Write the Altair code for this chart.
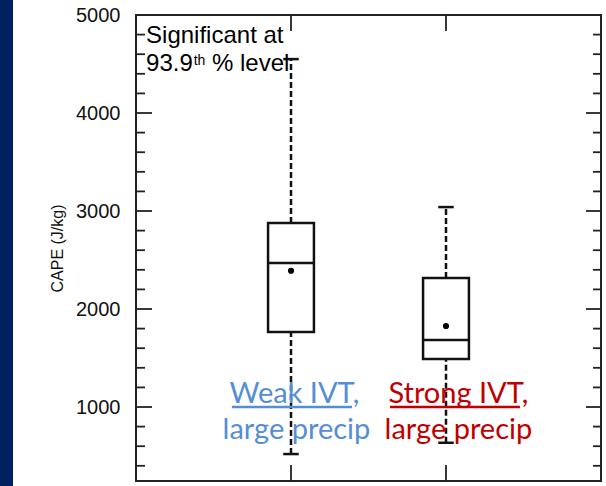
import altair as alt
import pandas as pd

# ---- data ----
groups = ["Weak IVT", "Strong IVT"]
positions = [1, 2]
whisker_low = [520, 635]
q1 = [1765, 1490]
median = [2470, 1685]
q3 = [2878, 2316]
whisker_high = [4550, 3040]
means = [2390, 1827]

y_labels = [1000, 2000, 3000, 4000, 5000]
y_major_ticks = [1000, 2000, 3000, 4000]
y_minor_ticks = [400, 600, 800, 1200, 1400, 1600, 1800, 2200, 2400, 2600, 2800,
                 3200, 3400, 3600, 3800, 4200, 4400, 4600, 4800]
x_ticks = [1, 2]

sig_texts = ["Significant at", "93.9", "th", "% level"]
sig_x = [0.065, 0.065, 0.372, 0.49]
sig_y = [4714, 4429, 4490, 4429]
sig_size = [24, 24, 14, 24]

lab_texts = ["Weak IVT,", "large precip", "Strong IVT,", "large precip"]
lab_x = [1.022, 1.035, 2.08, 2.08]
lab_y = [1041, 673, 1041, 673]
lab_color = ["#558ED5", "#558ED5", "#C00000", "#C00000"]

under_x1 = [0.619, 1.639]
under_x2 = [1.394, 2.477]
under_y = [1000, 1000]
under_color = ["#558ED5", "#C00000"]

W, H = 465, 466
BOX_HALF = 0.148
CAP_HALF = 0.05
INK = "#111111"

box_df = pd.DataFrame({"group": groups, "pos": positions, "lo": whisker_low, "q1": q1,
                       "med": median, "q3": q3, "hi": whisker_high, "mean": means})

xs = alt.Scale(domain=[0, 3], nice=False, zero=False)
ys = alt.Scale(domain=[245, 5000], nice=False, zero=False)

YAX = alt.Axis(values=y_labels, format="d", title="CAPE (J/kg)")

def Y(field):
    return alt.Y(field, scale=ys, axis=YAX)

def X(field):
    return alt.X(field, scale=xs, axis=None)

base = alt.Chart(box_df)

whisk_up = base.mark_rule(color=INK, strokeWidth=2.5, strokeDash=[6, 3]).encode(
    x=X("pos:Q"), y=Y("q3:Q"), y2="hi:Q")
whisk_dn = base.mark_rule(color=INK, strokeWidth=2.5, strokeDash=[6, 3]).encode(
    x=X("pos:Q"), y=Y("lo:Q"), y2="q1:Q")

calc = dict(a=f"datum.pos-{CAP_HALF}", b=f"datum.pos+{CAP_HALF}")
calc_box = dict(a=f"datum.pos-{BOX_HALF}", b=f"datum.pos+{BOX_HALF}")

caps_hi = base.transform_calculate(**calc).mark_rule(color=INK, strokeWidth=2.5).encode(
    x=X("a:Q"), x2="b:Q", y=Y("hi:Q"))
caps_lo = base.transform_calculate(**calc).mark_rule(color=INK, strokeWidth=2.5).encode(
    x=X("a:Q"), x2="b:Q", y=Y("lo:Q"))

boxes = base.transform_calculate(**calc_box).mark_rect(
    fill="white", stroke=INK, strokeWidth=2.5).encode(
    x=X("a:Q"), x2="b:Q", y=Y("q1:Q"), y2="q3:Q")
meds = base.transform_calculate(**calc_box).mark_rule(color=INK, strokeWidth=2.5).encode(
    x=X("a:Q"), x2="b:Q", y=Y("med:Q"))
mean_pts = base.mark_point(filled=True, color="#000000", size=38, opacity=1).encode(
    x=X("pos:Q"), y=Y("mean:Q"))

# ticks (inward)
maj_df = pd.DataFrame({"v": y_major_ticks})
min_df = pd.DataFrame({"v": y_minor_ticks})
xt_df = pd.DataFrame({"v": x_ticks})
tick_style = dict(color="#222222", strokeWidth=1.8)
lt_major = alt.Chart(maj_df).mark_rule(**tick_style).encode(
    y=Y("v:Q"), x=alt.value(0), x2=alt.value(16))
rt_major = alt.Chart(maj_df).mark_rule(**tick_style).encode(
    y=Y("v:Q"), x=alt.value(W), x2=alt.value(W - 15))
lt_minor = alt.Chart(min_df).mark_rule(**tick_style).encode(
    y=Y("v:Q"), x=alt.value(0), x2=alt.value(9))
rt_minor = alt.Chart(min_df).mark_rule(**tick_style).encode(
    y=Y("v:Q"), x=alt.value(W), x2=alt.value(W - 8))
bt = alt.Chart(xt_df).mark_rule(**tick_style).encode(
    x=X("v:Q"), y=alt.value(H), y2=alt.value(H - 16))
tt = alt.Chart(xt_df).mark_rule(**tick_style).encode(
    x=X("v:Q"), y=alt.value(0), y2=alt.value(16))

# annotation texts
sig_df = pd.DataFrame({"t": sig_texts, "x": sig_x, "y": sig_y, "s": sig_size})
sig = alt.Chart(sig_df).mark_text(align="left", baseline="alphabetic", font="Liberation Sans",
                                  color="#000000").encode(
    x=X("x:Q"), y=Y("y:Q"), text="t:N",
    size=alt.Size("s:Q", scale=None, legend=None))

lab_df = pd.DataFrame({"t": lab_texts, "x": lab_x, "y": lab_y, "c": lab_color})
labs = alt.Chart(lab_df).mark_text(align="center", baseline="alphabetic", font="Lato",
                                   fontSize=29).encode(
    x=X("x:Q"), y=Y("y:Q"), text="t:N",
    color=alt.Color("c:N", scale=None, legend=None))

und_df = pd.DataFrame({"x1": under_x1, "x2": under_x2, "y": under_y, "c": under_color})
unders = alt.Chart(und_df).mark_rule(strokeWidth=2.5).encode(
    x=X("x1:Q"), x2="x2:Q", y=Y("y:Q"),
    color=alt.Color("c:N", scale=None, legend=None))

strip = alt.Chart(pd.DataFrame({"k": [0]})).mark_rect(color="#002060").encode(
    x=alt.value(-136), x2=alt.value(-123), y=alt.value(-15), y2=alt.value(H + 5))

chart = alt.layer(
    whisk_up, strip, whisk_dn, caps_hi, caps_lo, boxes, meds, mean_pts,
    lt_major, rt_major, lt_minor, rt_minor, bt, tt, sig, labs, unders
).properties(
    width=W, height=H,
    autosize=alt.AutoSizeParams(type="none"),
    padding={"left": 136, "top": 15, "right": 5, "bottom": 5},
    background="white",
).configure_view(
    stroke="#222222", strokeWidth=2
).configure_axisY(
    ticks=False, domain=False, grid=False,
    labelFont="Liberation Sans", labelFontSize=20, labelColor="#111111",
    labelPadding=16, labelFlush=False, labelOverlap=False,
    titleFont="Liberation Sans", titleFontSize=16, titleFontWeight="normal",
    titleColor="#111111", titlePadding=10,
)

chart.save("out.html", embed_options={"renderer": "svg", "actions": False})
